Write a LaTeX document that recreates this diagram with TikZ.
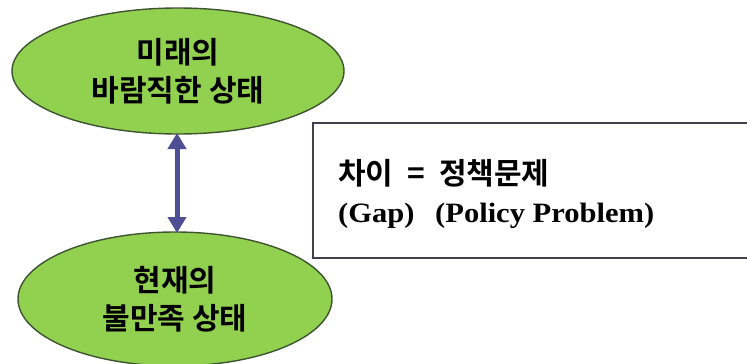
\documentclass[tikz,border=0pt]{standalone}
\usepackage{fontspec}
\setmainfont{Liberation Serif}
\newfontfamily\engwide{Liberation Serif}[FakeStretch=1.09]
\newfontfamily\kr{Noto Sans CJK KR}[BoldFont={* Bold}]
\usetikzlibrary{shapes.geometric,arrows.meta}
\definecolor{lgreen}{RGB}{146,208,80}
\definecolor{edgegreen}{RGB}{62,84,48}
\definecolor{arrowblue}{RGB}{78,78,148}
\definecolor{boxedge}{RGB}{64,64,78}
\tikzset{
  state/.style={ellipse,draw=edgegreen,line width=1.4pt,fill=lgreen,align=center,
    font=\kr\bfseries\fontsize{30}{38}\selectfont,inner sep=0pt},
  engtext/.style={anchor=base west,font=\engwide\bfseries\fontsize{28}{32}\selectfont,inner sep=0pt},
}
\begin{document}
\begin{tikzpicture}[x=1pt,y=-1pt]
\useasboundingbox (0,0) rectangle (747,364);
\node[state,minimum width=332pt,minimum height=126pt] (future) at (178,71) {미래의\\바람직한 상태};
\node[state,minimum width=314pt,minimum height=134pt] (now) at (175,299) {현재의\\불만족 상태};
\draw[draw=boxedge,line width=1.4pt] (313,123) rectangle (760,258);
\node[anchor=base west,font=\kr\bfseries\fontsize{30}{32}\selectfont,inner sep=0pt] (gap) at (338,184) {차이\hspace{14pt}=\hspace{14pt}정책문제};
\node[engtext] (eng1) at (338,222) {(Gap)};
\node[engtext] (eng2) at (435,222) {(Policy Problem)};
\coordinate (a1) at (177,133);
\coordinate (a2) at (177,233);
\draw[arrowblue,line width=5pt,{Triangle[width=18pt,length=16pt]}-{Triangle[width=18pt,length=16pt]}] (a1) -- (a2);
\end{tikzpicture}
\end{document}
